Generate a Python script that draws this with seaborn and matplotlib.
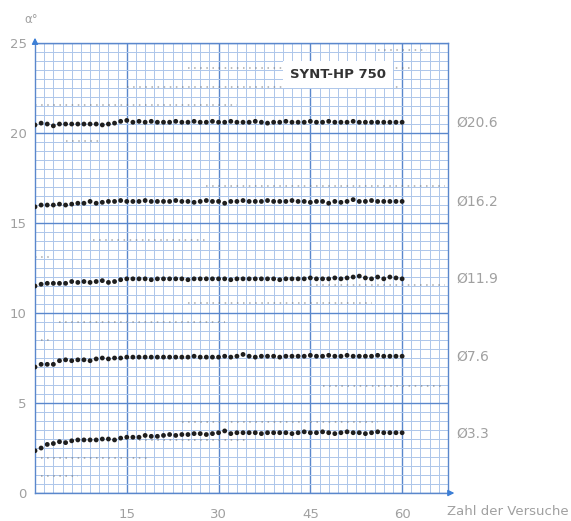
import numpy as np
import pandas as pd
import seaborn as sns
import matplotlib.pyplot as plt

# ── Data ───────────────────────────────────────────────────────────────────────
trials = list(range(0, 61))

d206 = [20.45, 20.55, 20.5, 20.4, 20.5, 20.5, 20.5, 20.5, 20.5, 20.5,
        20.5, 20.45, 20.5, 20.55, 20.65, 20.7, 20.6, 20.65, 20.6, 20.65,
        20.6, 20.6, 20.6, 20.65, 20.6, 20.6, 20.65, 20.6, 20.6, 20.65,
        20.6, 20.6, 20.65, 20.6, 20.6, 20.6, 20.65, 20.6, 20.55, 20.6,
        20.6, 20.65, 20.6, 20.6, 20.6, 20.65, 20.6, 20.6, 20.65, 20.6,
        20.6, 20.6, 20.65, 20.6, 20.6, 20.6, 20.6, 20.6, 20.6, 20.6, 20.6]
d162 = [15.9, 16.0, 16.0, 16.0, 16.05, 16.0, 16.05, 16.1, 16.1, 16.2,
        16.1, 16.15, 16.2, 16.2, 16.25, 16.2, 16.2, 16.2, 16.25, 16.2,
        16.2, 16.2, 16.2, 16.25, 16.2, 16.2, 16.15, 16.2, 16.25, 16.2,
        16.2, 16.1, 16.2, 16.2, 16.25, 16.2, 16.2, 16.2, 16.25, 16.2,
        16.2, 16.2, 16.25, 16.2, 16.2, 16.15, 16.2, 16.2, 16.1, 16.2,
        16.15, 16.2, 16.3, 16.2, 16.2, 16.25, 16.2, 16.2, 16.2, 16.2, 16.2]
d119 = [11.5, 11.6, 11.65, 11.65, 11.65, 11.65, 11.75, 11.7, 11.75, 11.7,
        11.75, 11.8, 11.7, 11.75, 11.85, 11.9, 11.9, 11.9, 11.9, 11.85,
        11.9, 11.9, 11.9, 11.9, 11.9, 11.85, 11.9, 11.9, 11.9, 11.9,
        11.9, 11.9, 11.85, 11.9, 11.9, 11.9, 11.9, 11.9, 11.9, 11.9,
        11.85, 11.9, 11.9, 11.9, 11.9, 11.95, 11.9, 11.9, 11.9, 11.95,
        11.9, 11.95, 12.0, 12.05, 11.95, 11.9, 12.0, 11.9, 12.0, 11.95, 11.9]
d76 = [7.0, 7.15, 7.15, 7.15, 7.35, 7.4, 7.35, 7.4, 7.4, 7.35,
       7.45, 7.5, 7.45, 7.5, 7.5, 7.55, 7.55, 7.55, 7.55, 7.55,
       7.55, 7.55, 7.55, 7.55, 7.55, 7.55, 7.6, 7.55, 7.55, 7.55,
       7.55, 7.6, 7.55, 7.6, 7.7, 7.6, 7.55, 7.6, 7.6, 7.6,
       7.55, 7.6, 7.6, 7.6, 7.6, 7.65, 7.6, 7.6, 7.65, 7.6,
       7.6, 7.65, 7.6, 7.6, 7.6, 7.6, 7.65, 7.6, 7.6, 7.6, 7.6]
d33 = [2.35, 2.5, 2.7, 2.75, 2.85, 2.8, 2.9, 2.95, 2.95, 2.95,
       2.95, 3.0, 3.0, 2.95, 3.05, 3.1, 3.1, 3.1, 3.2, 3.15,
       3.15, 3.2, 3.25, 3.2, 3.25, 3.25, 3.3, 3.3, 3.25, 3.3,
       3.35, 3.45, 3.3, 3.35, 3.35, 3.35, 3.35, 3.3, 3.35, 3.35,
       3.35, 3.35, 3.3, 3.35, 3.4, 3.35, 3.35, 3.4, 3.35, 3.3,
       3.35, 3.4, 3.35, 3.35, 3.3, 3.35, 3.4, 3.35, 3.35, 3.35, 3.35]

series_labels = ["Ø20.6", "Ø16.2", "Ø11.9", "Ø7.6", "Ø3.3"]
series_values = [d206, d162, d119, d76, d33]
label_levels = [20.6, 16.2, 11.9, 7.6, 3.3]

# faint show-through dashes of the printed sheet: (y, x start, x end)
ghost_y = [24.6, 23.6, 22.55, 21.55, 19.55, 17.05, 14.05, 13.1, 11.55,
           10.55, 9.5, 8.5, 5.95, 3.95, 2.95, 1.95, 0.95]
ghost_x0 = [56, 25, 15, 0, 5, 28, 9.5, 0, 45, 25, 4, 1, 47, 24, 17, 1, 1]
ghost_x1 = [64, 62, 60, 33, 11, 67, 28, 3, 67, 55, 31, 3, 67, 56, 35, 19, 7]

rows = []
for name, vals in zip(series_labels, series_values):
    for t, v in zip(trials, vals):
        rows.append({"Versuch": t, "alpha": v, "Serie": name})
df = pd.DataFrame(rows)

# ── Figure ─────────────────────────────────────────────────────────────────────
sns.set_style("white")
plt.rcParams['font.family'] = ['DejaVu Sans']

fig = plt.figure(figsize=(5.71, 5.21), dpi=100)
ax = fig.add_axes([0.0613, 0.0537, 0.7233, 0.8637])

blue_major = '#5a87cc'
blue_minor = '#adc6ea'
grey_txt = '#a0a0a0'

ax.set_xlim(0, 67.5)
ax.set_ylim(0, 25)

# graph-paper grid
ax.set_xticks(np.arange(0, 67.6, 1.5), minor=True)
ax.set_yticks(np.arange(0, 25.1, 0.5), minor=True)
ax.set_xticks([15, 30, 45, 60])
ax.set_yticks([0, 5, 10, 15, 20, 25])
ax.grid(which='minor', color=blue_minor, linewidth=0.7)
ax.grid(which='major', color=blue_major, linewidth=1.0)
ax.set_axisbelow(True)
ax.tick_params(which='both', length=0)
ax.tick_params(axis='y', pad=6, labelsize=9.5, labelcolor=grey_txt)
ax.tick_params(axis='x', pad=11, labelsize=9.5, labelcolor=grey_txt)
for s in ax.spines.values():
    s.set_color(blue_major)
    s.set_linewidth(1.0)

# ghost dashes
ax.hlines(ghost_y, ghost_x0, ghost_x1, colors='#707070', linewidth=1.1,
          linestyles=(0, (1.0, 3.0)), alpha=0.6, zorder=1.5)

# measurement dots
sns.scatterplot(data=df, x="Versuch", y="alpha", hue="Serie",
                palette=['#1e1e1e'] * 5, s=12, linewidth=0, legend=False,
                ax=ax, zorder=3)

ax.set_xlabel('')
ax.set_ylabel('')

# product label box
ax.text(49.5, 23.25, 'SYNT-HP 750', fontsize=9.5, fontweight='bold',
        color='#333333', ha='center', va='center', zorder=4,
        bbox=dict(boxstyle='square,pad=0.55', facecolor='white',
                  edgecolor='none'))

# diameter labels at the right
for lab, lev in zip(series_labels, label_levels):
    ax.text(68.8, lev, lab, fontsize=10, color=grey_txt,
            ha='left', va='center', clip_on=False)

# axis arrows
ax.annotate('', xy=(0, 25.45), xytext=(0, 24.9), annotation_clip=False,
            arrowprops=dict(arrowstyle='-|>', color='#3d7fd6', lw=1,
                            mutation_scale=9))
ax.annotate('', xy=(69.0, 0), xytext=(67.3, 0), annotation_clip=False,
            arrowprops=dict(arrowstyle='-|>', color='#3d7fd6', lw=1,
                            mutation_scale=9))

ax.text(-0.6, 26.3, 'α°', fontsize=8.5, color=grey_txt, ha='center',
        va='center', clip_on=False)
ax.text(67.3, -1.05, 'Zahl der Versuche', fontsize=9.5, color=grey_txt,
        ha='left', va='center', clip_on=False)

plt.savefig('out.png', dpi=100)
